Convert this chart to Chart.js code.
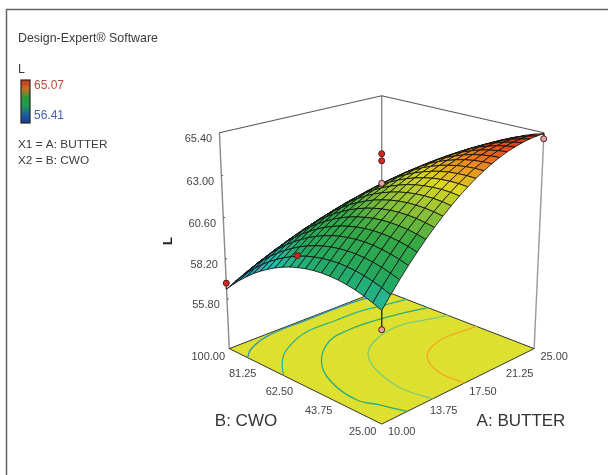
<!DOCTYPE html>
<html>
<head>
<meta charset="utf-8">
<style>
html, body { margin: 0; padding: 0; background: #fff; }
#wrap { width: 608px; height: 475px; }
</style>
<script src="https://cdn.jsdelivr.net/npm/chart.js@4"></script>
</head>
<body>
<div id="wrap"><canvas id="c" width="608" height="475"></canvas></div>
<script>
// factor levels of the mesh
const butterGrid = [10,10.75,11.5,12.25,13,13.75,14.5,15.25,16,16.75,17.5,18.25,19,19.75,20.5,21.25,22,22.75,23.5,24.25,25]
const cwoGrid = [25,28.75,32.5,36.25,40,43.75,47.5,51.25,55,58.75,62.5,66.25,70,73.75,77.5,81.25,85,88.75,92.5,96.25,100]

// L, one row per CWO level
const surfaceL = [
[58.90,59.53,60.13,60.70,61.23,61.73,62.20,62.64,63.04,63.41,63.75,64.06,64.33,64.57,64.78,64.96,65.10,65.21,65.29,65.34,65.35],
[59.11,59.72,60.30,60.85,61.37,61.85,62.30,62.72,63.11,63.46,63.78,64.07,64.33,64.55,64.74,64.90,65.03,65.12,65.18,65.21,65.21],
[59.28,59.88,60.44,60.97,61.47,61.94,62.37,62.77,63.14,63.48,63.78,64.05,64.29,64.50,64.67,64.81,64.92,65.00,65.04,65.05,65.03],
[59.42,59.99,60.54,61.05,61.54,61.98,62.40,62.78,63.14,63.45,63.74,64.00,64.22,64.41,64.56,64.69,64.78,64.84,64.86,64.86,64.82],
[59.52,60.08,60.61,61.11,61.57,62.00,62.40,62.77,63.10,63.40,63.67,63.91,64.11,64.28,64.42,64.53,64.60,64.64,64.65,64.63,64.57],
[59.59,60.13,60.64,61.12,61.57,61.98,62.36,62.71,63.03,63.31,63.56,63.78,63.97,64.12,64.24,64.33,64.39,64.41,64.40,64.36,64.29],
[59.62,60.15,60.64,61.10,61.53,61.93,62.29,62.62,62.92,63.19,63.42,63.62,63.79,63.93,64.03,64.10,64.14,64.15,64.12,64.06,63.97],
[59.62,60.12,60.60,61.04,61.46,61.83,62.18,62.49,62.78,63.02,63.24,63.43,63.58,63.70,63.78,63.84,63.86,63.85,63.80,63.73,63.62],
[59.58,60.07,60.53,60.96,61.35,61.71,62.04,62.34,62.60,62.83,63.03,63.20,63.33,63.43,63.50,63.54,63.54,63.51,63.45,63.36,63.23],
[59.51,59.98,60.42,60.83,61.21,61.55,61.86,62.14,62.39,62.60,62.78,62.93,63.05,63.13,63.18,63.20,63.19,63.14,63.06,62.95,62.81],
[59.40,59.86,60.28,60.67,61.03,61.36,61.65,61.91,62.14,62.34,62.50,62.63,62.73,62.80,62.83,62.83,62.80,62.74,62.64,62.51,62.35],
[59.26,59.70,60.10,60.48,60.82,61.13,61.40,61.65,61.86,62.04,62.18,62.30,62.38,62.43,62.44,62.43,62.38,62.30,62.18,62.04,61.86],
[59.08,59.50,59.89,60.25,60.57,60.86,61.12,61.35,61.54,61.70,61.83,61.93,61.99,62.02,62.02,61.99,61.92,61.82,61.69,61.53,61.33],
[58.87,59.27,59.64,59.98,60.29,60.56,60.80,61.01,61.19,61.33,61.44,61.52,61.57,61.58,61.56,61.51,61.43,61.31,61.16,60.98,60.77],
[58.62,59.01,59.36,59.68,59.97,60.23,60.45,60.64,60.80,60.93,61.02,61.08,61.11,61.11,61.07,61.00,60.90,60.77,60.60,60.40,60.17],
[58.34,58.71,59.05,59.35,59.62,59.86,60.07,60.24,60.38,60.49,60.57,60.61,60.62,60.60,60.55,60.46,60.34,60.19,60.01,59.79,59.54],
[58.03,58.38,58.70,58.98,59.24,59.46,59.65,59.80,59.93,60.02,60.08,60.10,60.10,60.06,59.99,59.88,59.75,59.58,59.38,59.14,58.88],
[57.67,58.01,58.31,58.58,58.81,59.02,59.19,59.33,59.43,59.51,59.55,59.56,59.53,59.48,59.39,59.27,59.11,58.93,58.71,58.46,58.17],
[57.29,57.60,57.89,58.14,58.36,58.54,58.70,58.82,58.91,58.96,58.99,58.98,58.94,58.86,58.76,58.62,58.45,58.24,58.01,57.74,57.44],
[56.87,57.17,57.43,57.67,57.87,58.04,58.17,58.28,58.35,58.39,58.39,58.36,58.31,58.21,58.09,57.93,57.75,57.52,57.27,56.98,56.67],
[56.41,56.69,56.94,57.16,57.34,57.49,57.61,57.70,57.75,57.77,57.76,57.72,57.64,57.53,57.39,57.22,57.01,56.77,56.50,56.20,55.86]
]

// contour lines on the floor, [butter, cwo]
const contourOrange = [[25,51.25],[23.17,52.45],[21.52,52.9],[19.78,50.35],[18.72,46.56],[17.89,40.15],[17.55,33.4],[17.66,25]]
const contourPale = [[25,65.1],[23.18,68.5],[21.36,71.5],[19.14,70.56],[16.8,65.3],[15.45,57.6],[14.63,48],[14.2,36.9],[14.58,25]]
const contourTeal1 = [[25,75.3],[22.83,78.7],[20.25,81.2],[18.06,81.9],[15.8,80],[13.26,70.3],[11.72,57.8],[11.07,41.95],[11.6,34.4],[12.24,25]]
const contourTeal2 = [[25,86.5],[22.53,89.2],[20.8,91],[18.54,91.3],[15.24,90.9],[12.45,84.4],[11.04,77.8],[10,71]]
const contourBlue = [[10,89.9],[11,94.3],[13.1,98.5],[17.07,99.2],[20.98,99.2],[23.84,97.5],[25,96]]

// design points
const pointButter = [10,10,17.5,17.5,17.5,10,25]
const pointCwo = [100,62.5,62.5,62.5,62.5,25,25]
const pointL = [56.77,60.06,64.24,63.85,62.58,57.89,65.07]
const pointAbove = [true,true,true,true,false,false,false]

const butterTicks = [10,13.75,17.5,21.25,25]
const cwoTicks = [25,43.75,62.5,81.25,100]
const lTicks = [55.8,58.2,60.6,63,65.4]
const floorL = 52.77
const topL = 65.4

// surface colours by L
const colorLevels = [56.41,57.6,58.8,60,61.5,62.8,63.6,64.4,65.2]
const colorStops = [[30,70,170],[26,150,176],[37,189,176],[36,168,96],[53,168,69],[156,196,51],[220,214,34],[236,138,30],[220,58,28]]
// legend bar, top to bottom
const barStops = ['#c8321e','#c8701e','#2a9a3c','#1c9a50','#1c5aa8','#16388e']

function proj(butter, cwo, L){
    const a = (butter - 17.5) / 7.5
    const b = (cwo - 62.5) / 37.5
    const s = (a - b) / 2
    const t = (a + b) / 2
    const z = (L - floorL) / (topL - floorL)
    const w = 1 + 0.124 * t - 0.0606 * z
    return {x: 383 + 155 * s / w, y: (351 - 24 * t - 228.4 * z) / w}
}

function depth(butter, cwo, L){
    const t = ((butter - 17.5) / 7.5 + (cwo - 62.5) / 37.5) / 2
    return 139 * t - 107 * (L - floorL) / (topL - floorL)
}

function surfaceColor(L){
    let i = 0
    while(i < colorLevels.length - 2 && L > colorLevels[i + 1]) i++
    let f = (L - colorLevels[i]) / (colorLevels[i + 1] - colorLevels[i])
    f = Math.max(0, Math.min(1, f))
    const c = colorStops[i].map((v, k) => Math.round(v + (colorStops[i + 1][k] - v) * f))
    return `rgb(${c[0]},${c[1]},${c[2]})`
}

function lineSet(points, color, width, tension){
    return {data: points, showLine: true, borderColor: color, borderWidth: width, pointRadius: 0, fill: false, tension: tension || 0}
}

const datasets = []

// wire box behind everything
const [aLo, aHi] = [butterGrid[0], butterGrid[20]]
const [bLo, bHi] = [cwoGrid[0], cwoGrid[20]]
datasets.push(lineSet([proj(aLo, bHi, floorL), proj(aLo, bHi, topL)], '#8a8a8a', 1.4))
datasets.push(lineSet([proj(aHi, bLo, floorL), proj(aHi, bLo, topL)], '#9a9a9a', 1.4))
datasets.push(lineSet([proj(aHi, bHi, floorL), proj(aHi, bHi, topL)], '#8a8a8a', 1.4))
datasets.push(lineSet([proj(aLo, bHi, topL), proj(aHi, bHi, topL), proj(aHi, bLo, topL)], '#555', 1.1))
for(const l of lTicks){
    datasets.push(lineSet([proj(aLo, bHi, l), proj(aLo + 0.15, bHi, l)], '#555', 1))
}

// floor with its contours
datasets.push({
    data: [proj(aLo, bLo, floorL), proj(aHi, bLo, floorL), proj(aHi, bHi, floorL), proj(aLo, bHi, floorL), proj(aLo, bLo, floorL)],
    showLine: true, fill: 'shape', backgroundColor: '#dde02f', borderColor: '#333', borderWidth: 1, pointRadius: 0
})
const contours = [[contourBlue, '#2f93b8'], [contourTeal2, '#2fb48c'], [contourTeal1, '#27ad7c'], [contourPale, '#7ccb78'], [contourOrange, '#f4a91f']]
for(const [pts, color] of contours){
    datasets.push(lineSet(pts.map(p => proj(p[0], p[1], floorL)), color, 1.3, 0.4))
}

// stems from the surface down or up to the design points
const stemL = [56.41,59.40,62.50,62.50,62.50,58.90,65.35]
pointL.forEach((l, i) => {
    if(i >= 2 && i <= 4) return
    datasets.push(lineSet([proj(pointButter[i], pointCwo[i], stemL[i]), proj(pointButter[i], pointCwo[i], l)], '#333', 1))
})

// mesh, far cells first
const quads = []
for(let j = 0; j < cwoGrid.length - 1; j++){
    for(let i = 0; i < butterGrid.length - 1; i++){
        const corners = [[i, j], [i + 1, j], [i + 1, j + 1], [i, j + 1], [i, j]]
        const pts = corners.map(c => proj(butterGrid[c[0]], cwoGrid[c[1]], surfaceL[c[1]][c[0]]))
        const avg = (surfaceL[j][i] + surfaceL[j][i + 1] + surfaceL[j + 1][i] + surfaceL[j + 1][i + 1]) / 4
        quads.push({pts, avg, d: depth((butterGrid[i] + butterGrid[i + 1]) / 2, (cwoGrid[j] + cwoGrid[j + 1]) / 2, avg)})
    }
}
quads.sort((p, q) => q.d - p.d)
for(const q of quads){
    datasets.push({
        data: q.pts, showLine: true, fill: 'shape', backgroundColor: surfaceColor(q.avg),
        borderColor: '#0a0a0a', borderWidth: 0.8, pointRadius: 0
    })
}

// design points on top
pointL.forEach((l, i) => {
    datasets.push({
        data: [proj(pointButter[i], pointCwo[i], l)],
        pointRadius: 3, pointBorderWidth: 1, pointBorderColor: '#4a1a1a',
        pointBackgroundColor: pointAbove[i] ? '#d9261c' : '#e8a3a3'
    })
})

// chart.js paints the first dataset last
datasets.reverse()

const textPlugin = {
    id: 'textPlugin',
    afterDraw(chart){
        const ctx = chart.ctx
        const sx = chart.scales.x
        const sy = chart.scales.y
        ctx.save()
        // frame
        ctx.strokeStyle = '#666'
        ctx.lineWidth = 1.5
        ctx.beginPath()
        ctx.moveTo(6.5, 475)
        ctx.lineTo(6.5, 9.5)
        ctx.lineTo(608, 9.5)
        ctx.stroke()

        ctx.textBaseline = 'middle'
        ctx.fillStyle = '#3a3a3a'
        ctx.textAlign = 'left'
        ctx.font = '12.4px "Liberation Sans"'
        ctx.fillText('Design-Expert® Software', 18, 39)
        ctx.fillText('L', 18, 70)
        ctx.font = '11.8px "Liberation Sans"'
        ctx.fillText('X1 = A: BUTTER', 18, 145)
        ctx.fillText('X2 = B: CWO', 18, 161)

        // legend bar
        const grad = ctx.createLinearGradient(0, 80, 0, 124)
        barStops.forEach((c, i) => grad.addColorStop(i / (barStops.length - 1), c))
        ctx.fillStyle = grad
        ctx.fillRect(21, 80, 9, 43)
        ctx.strokeStyle = '#222'
        ctx.lineWidth = 1.2
        ctx.strokeRect(21, 80, 9, 43)
        ctx.font = '12px "Liberation Sans"'
        ctx.fillStyle = '#b9493f'
        ctx.fillText('65.07', 34, 86)
        ctx.fillStyle = '#4263b0'
        ctx.fillText('56.41', 34, 116)

        // tick labels
        ctx.font = '11px "Liberation Sans"'
        ctx.fillStyle = '#444'
        ctx.textAlign = 'center'
        for(const v of butterTicks){
            const p = proj(v, bLo, floorL)
            ctx.fillText(v.toFixed(2), sx.getPixelForValue(p.x) + 20, sy.getPixelForValue(p.y) + 8)
        }
        for(const v of cwoTicks){
            const p = proj(aLo, v, floorL)
            if(v == bLo) continue
            ctx.fillText(v.toFixed(2), sx.getPixelForValue(p.x) - 21, sy.getPixelForValue(p.y) + 8)
        }
        const front = proj(aLo, bLo, floorL)
        ctx.fillText(bLo.toFixed(2), sx.getPixelForValue(front.x) - 19, sy.getPixelForValue(front.y) + 8)
        for(const v of lTicks){
            const p = proj(aLo, bHi, v)
            ctx.fillText(v.toFixed(2), sx.getPixelForValue(p.x) - 21, sy.getPixelForValue(p.y) + 6)
        }

        // axis titles
        ctx.font = '17px "Liberation Sans"'
        ctx.fillStyle = '#333'
        ctx.fillText('B: CWO', 246, 421)
        ctx.fillText('A: BUTTER', 521, 421)
        ctx.save()
        ctx.translate(168, 241)
        ctx.rotate(-Math.PI / 2)
        ctx.font = 'bold 13px "Liberation Sans"'
        ctx.fillStyle = '#222'
        ctx.fillText('L', 0, 0)
        ctx.restore()
        ctx.restore()
    }
}

new Chart(document.getElementById('c'), {
    type: 'scatter',
    data: {datasets: datasets},
    plugins: [textPlugin],
    options: {
        responsive: false,
        animation: false,
        events: [],
        layout: {padding: 0},
        plugins: {
            legend: {display: false},
            tooltip: {enabled: false},
            filler: {drawTime: 'beforeDatasetDraw'}
        },
        scales: {
            x: {type: 'linear', display: false, min: 0, max: 608},
            y: {type: 'linear', display: false, min: 0, max: 475, reverse: true}
        }
    }
})
</script>
</body>
</html>
